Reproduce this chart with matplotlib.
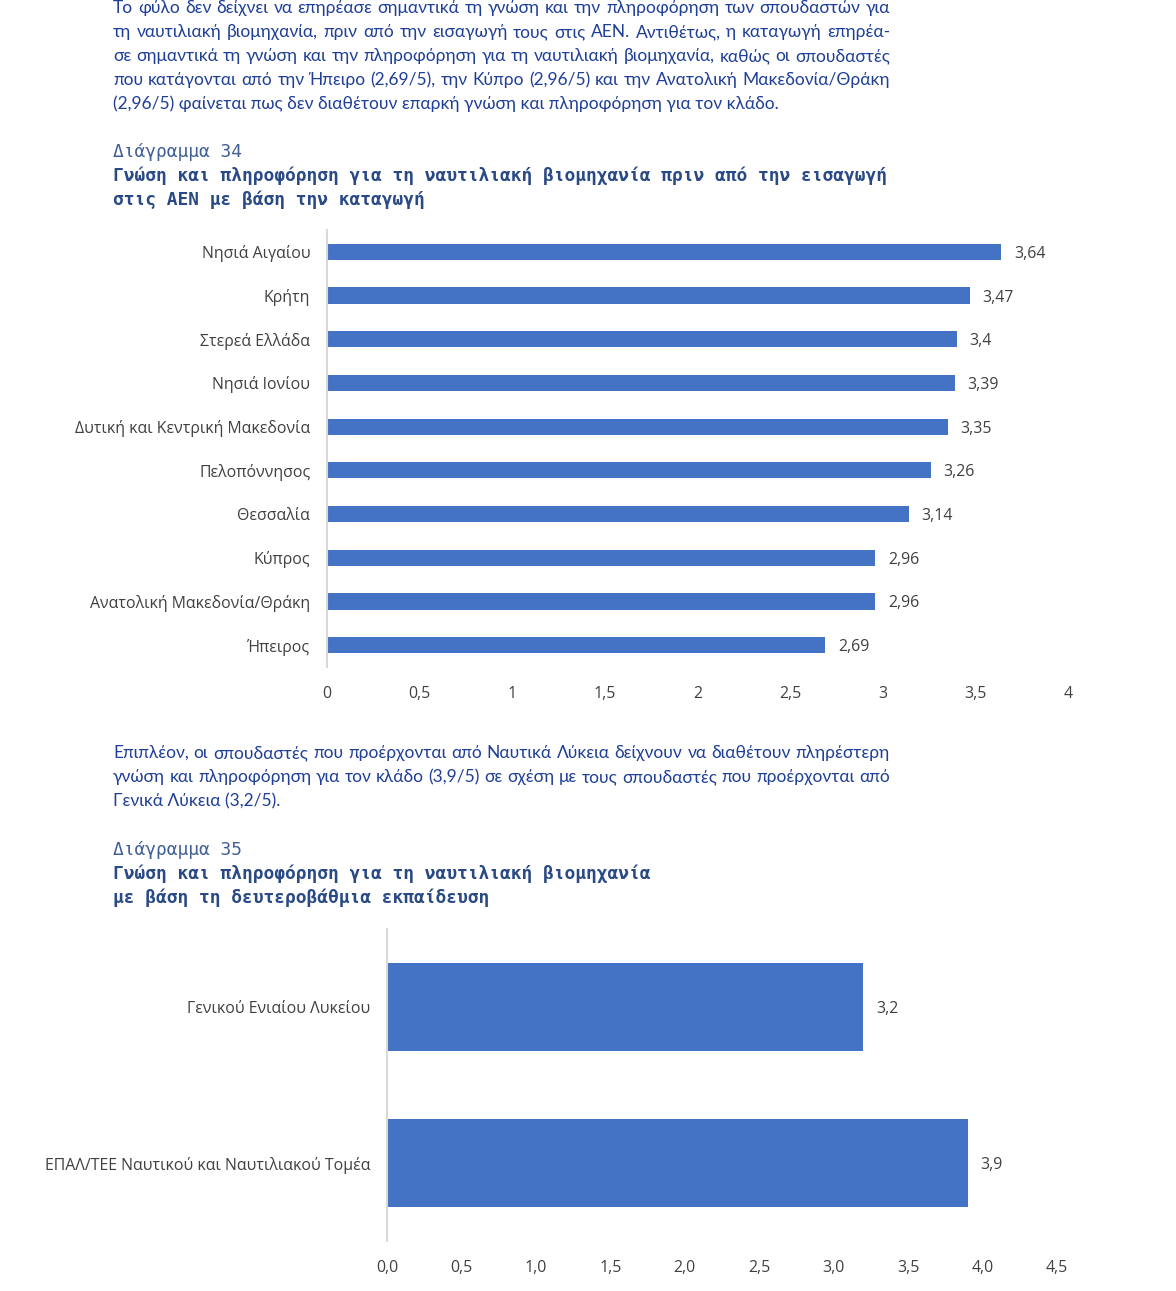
import matplotlib
matplotlib.use("Agg")
import matplotlib.pyplot as plt
import numpy as np

# data
regions = ["Νησιά Αιγαίου", "Κρήτη", "Στερεά Ελλάδα", "Νησιά Ιονίου",
           "Δυτική και Κεντρική Μακεδονία", "Πελοπόννησος", "Θεσσαλία",
           "Κύπρος", "Ανατολική Μακεδονία/Θράκη", "Ήπειρος"]
region_vals = [3.64, 3.47, 3.4, 3.39, 3.35, 3.26, 3.14, 2.96, 2.96, 2.69]
ticks1 = [0, 0.5, 1, 1.5, 2, 2.5, 3, 3.5, 4]
tick_labels1 = ["0", "0,5", "1", "1,5", "2", "2,5", "3", "3,5", "4"]

schools = ["Γενικού Ενιαίου Λυκείου", "ΕΠΑΛ/ΤΕΕ Ναυτικού και Ναυτιλιακού Τομέα"]
school_vals = [3.2, 3.9]
ticks2 = [0, 0.5, 1, 1.5, 2, 2.5, 3, 3.5, 4, 4.5]
tick_labels2 = ["0,0", "0,5", "1,0", "1,5", "2,0", "2,5", "3,0", "3,5", "4,0", "4,5"]

para1 = [
    "Το φύλο δεν δείχνει να επηρέασε σημαντικά τη γνώση και την πληροφόρηση των σπουδαστών για",
    "τη ναυτιλιακή βιομηχανία, πριν από την εισαγωγή τους στις ΑΕΝ. Αντιθέτως, η καταγωγή επηρέα-",
    "σε σημαντικά τη γνώση και την πληροφόρηση για τη ναυτιλιακή βιομηχανία, καθώς οι σπουδαστές",
    "που κατάγονται από την Ήπειρο (2,69/5), την Κύπρο (2,96/5) και την Ανατολική Μακεδονία/Θράκη",
    "(2,96/5) φαίνεται πως δεν διαθέτουν επαρκή γνώση και πληροφόρηση για τον κλάδο.",
]
para2 = [
    "Επιπλέον, οι σπουδαστές που προέρχονται από Ναυτικά Λύκεια δείχνουν να διαθέτουν πληρέστερη",
    "γνώση και πληροφόρηση για τον κλάδο (3,9/5) σε σχέση με τους σπουδαστές που προέρχονται από",
    "Γενικά Λύκεια (3,2/5).",
]

W, H = 1176, 1291
BAR = "#4472C4"
TXT = "#1F3F96"
GRAY = "#404040"
LABEL_SIZE = 11.4

fig = plt.figure(figsize=(W / 100, H / 100), dpi=100)
renderer = fig.canvas.get_renderer()

para_kw = dict(fontsize=12.5, color=TXT, family="Lato", va="center")


def fx(px):
    return px / W


def fy(py):
    return 1 - py / H


def justify(lines, y0, x0=113, x1=890, step=24):
    for i, line in enumerate(lines):
        y = fy(y0 + i * step)
        if i == len(lines) - 1:
            fig.text(fx(x0), y, line, **para_kw)
            continue
        words = line.split(" ")
        widths = []
        for w in words:
            t = fig.text(0, 0, w, **para_kw)
            widths.append(t.get_window_extent(renderer).width)
            t.remove()
        gap = (x1 - x0 - sum(widths)) / (len(words) - 1)
        x = x0
        for w, wd in zip(words, widths):
            fig.text(fx(x), y, w, **para_kw)
            x += wd + gap


justify(para1, 8)
justify(para2, 753)

mono = dict(family="DejaVu Sans Mono", fontsize=12.85, va="center")
head = dict(mono, color="#3F5F95")
title = dict(mono, color="#2A4A85", weight="bold")
fig.text(fx(113), fy(152), "Διάγραμμα 34", **head)
fig.text(fx(113), fy(176), "Γνώση και πληροφόρηση για τη ναυτιλιακή βιομηχανία πριν από την εισαγωγή", **title)
fig.text(fx(113), fy(200), "στις ΑΕΝ με βάση την καταγωγή", **title)
fig.text(fx(113), fy(850), "Διάγραμμα 35", **head)
fig.text(fx(113), fy(874), "Γνώση και πληροφόρηση για τη ναυτιλιακή βιομηχανία", **title)
fig.text(fx(113), fy(898), "με βάση τη δευτεροβάθμια εκπαίδευση", **title)


def style(ax):
    for s in ["top", "right", "bottom"]:
        ax.spines[s].set_visible(False)
    ax.spines["left"].set_color("#D9D9D9")
    ax.spines["left"].set_linewidth(1.5)
    ax.tick_params(length=0, labelcolor=GRAY, labelsize=LABEL_SIZE)
    ax.tick_params(axis="y", pad=12)
    ax.tick_params(axis="x", pad=14)
    for lab in ax.get_xticklabels() + ax.get_yticklabels():
        lab.set_family("Open Sans")


def value_labels(ax, ys, vals):
    for yi, v in zip(ys, vals):
        ax.annotate(f"{v:g}".replace(".", ","), (v, yi), xytext=(9, 0), textcoords="offset points",
                    va="center_baseline", ha="left", fontsize=LABEL_SIZE, color=GRAY, family="Open Sans")


# chart 34
ax1 = fig.add_axes([fx(327), fy(667), fx(1068) - fx(327), fy(230) - fy(667)])
y1 = np.arange(len(regions))
ax1.barh(y1, region_vals, height=0.37, color=BAR)
ax1.set_xlim(0, 4)
ax1.set_ylim(len(regions) - 0.5, -0.5)
ax1.set_yticks(y1)
ax1.set_yticklabels(regions)
ax1.set_xticks(ticks1)
ax1.set_xticklabels(tick_labels1)
style(ax1)
value_labels(ax1, y1, region_vals)

# chart 35
ax2 = fig.add_axes([fx(387), fy(1241), fx(1057) - fx(387), fy(929) - fy(1241)])
y2 = np.arange(len(schools))
ax2.barh(y2, school_vals, height=0.57, color=BAR)
ax2.set_xlim(0, 4.5)
ax2.set_ylim(len(schools) - 0.5, -0.5)
ax2.set_yticks(y2)
ax2.set_yticklabels(schools)
ax2.set_xticks(ticks2)
ax2.set_xticklabels(tick_labels2)
style(ax2)
value_labels(ax2, y2, school_vals)

fig.savefig("out.png", dpi=100)
